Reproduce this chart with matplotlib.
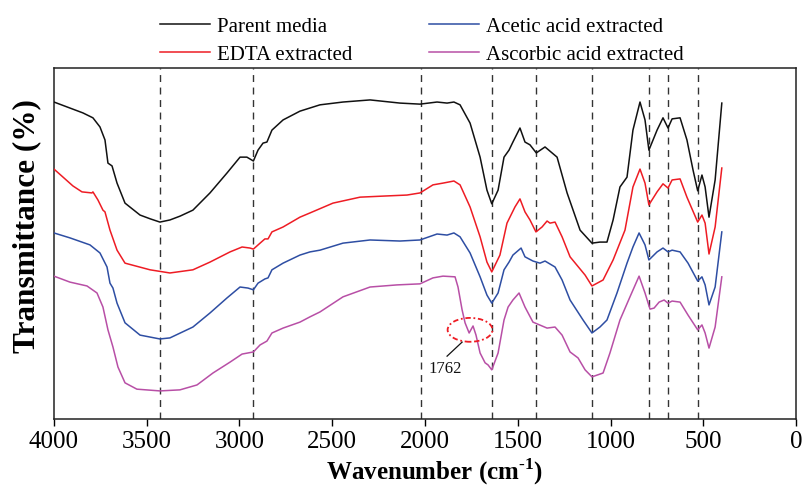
import matplotlib
matplotlib.use("Agg")
import matplotlib.pyplot as plt
from matplotlib.patches import Ellipse

plt.rcParams["font.family"] = ["Liberation Serif", "DejaVu Serif"]
plt.rcParams["mathtext.fontset"] = "custom"
plt.rcParams["mathtext.rm"] = "Liberation Serif:bold"
plt.rcParams["mathtext.bf"] = "Liberation Serif:bold"

# FTIR spectra (vertically offset transmittance, arbitrary units)
parent_wn = [4000, 3844, 3790, 3752, 3725, 3709, 3687, 3660, 3617, 3536, 3480, 3429, 3375,
             3320, 3251, 3159, 3067, 2997, 2960, 2925, 2900, 2873, 2852, 2825, 2765, 2674,
             2620, 2566, 2442, 2296, 2135, 2027, 1935, 1881, 1844, 1811, 1757, 1703,
             1666, 1640, 1606, 1574, 1547, 1526, 1488, 1461, 1434, 1400, 1353, 1288,
             1234, 1164, 1100, 1057, 1019, 986, 949, 911, 879, 841, 814, 793, 749,
             717, 690, 668, 625, 588, 555, 530, 507, 490, 469, 436, 400]
parent_t = [90.3, 87.2, 85.8, 83.2, 79.5, 72.9, 72.1, 67.2, 61.5, 58.1, 57.0, 56.1, 56.7,
            57.8, 59.5, 64.4, 70.1, 74.6, 74.6, 73.5, 76.6, 78.6, 78.9, 82.3, 85.2, 87.7,
            88.6, 89.5, 90.3, 90.9, 90.0, 89.7, 90.3, 90.0, 90.3, 89.5, 84.3, 74.6,
            65.2, 61.3, 65.2, 74.6, 76.6, 78.9, 82.9, 78.9, 78.1, 75.8, 77.5, 74.6,
            64.4, 53.8, 50.1, 50.4, 50.4, 56.7, 66.1, 68.9, 82.3, 90.3, 85.2, 76.6, 82.3,
            85.8, 82.9, 85.5, 85.8, 79.5, 70.9, 65.0, 69.5, 66.1, 57.5, 68.1, 90.0]

edta_wn = [4000, 3951, 3898, 3849, 3795, 3790, 3763, 3736, 3725, 3698, 3660, 3617,
           3482, 3375, 3251, 3159, 3051, 2986, 2943, 2925, 2889, 2863, 2846, 2825,
           2765, 2674, 2620, 2496, 2350, 2226, 2097, 2027, 1957, 1903, 1844, 1811,
           1757, 1703, 1666, 1640, 1596, 1558, 1515, 1488, 1461, 1434, 1402, 1369,
           1342, 1326, 1299, 1261, 1218, 1137, 1100, 1040, 986, 922, 879, 841, 814,
           793, 749, 717, 690, 668, 625, 588, 530, 507, 490, 469, 436, 400]
edta_t = [71.2, 68.9, 66.4, 64.7, 64.4, 64.7, 62.4, 59.5, 59.0, 53.8, 48.1, 44.4,
          42.5, 41.6, 42.5, 44.7, 47.6, 49.0, 48.7, 48.4, 50.1, 51.3, 51.3, 53.3,
          54.7, 57.5, 58.7, 61.5, 63.2, 63.5, 63.8, 64.4, 66.7, 67.2, 67.8, 66.7,
          60.4, 51.9, 44.7, 41.9, 46.7, 55.8, 60.4, 62.7, 59.0, 56.7, 53.3, 54.7,
          56.4, 55.8, 56.1, 51.9, 46.2, 41.0, 37.9, 39.6, 45.3, 53.8, 66.1, 71.2, 67.2,
          61.0, 64.7, 67.0, 65.8, 68.1, 68.4, 63.2, 56.1, 58.1, 55.8, 47.0, 54.7, 71.5]

acetic_wn = [4000, 3914, 3806, 3752, 3714, 3698, 3682, 3660, 3617, 3536, 3429, 3375,
             3251, 3159, 3067, 2997, 2954, 2925, 2900, 2863, 2846, 2825, 2765, 2674,
             2620, 2566, 2442, 2296, 2135, 2027, 1935, 1881, 1844, 1811, 1757, 1703,
             1666, 1640, 1606, 1574, 1547, 1526, 1482, 1461, 1418, 1380, 1353, 1299,
             1261, 1218, 1148, 1100, 1057, 1019, 965, 911, 879, 846, 814, 793, 749,
             717, 690, 668, 625, 582, 530, 507, 490, 469, 436, 400]
acetic_t = [53.0, 51.6, 49.6, 47.3, 43.3, 38.7, 37.3, 33.0, 27.4, 23.9, 22.8, 23.1,
            26.2, 30.2, 34.5, 37.6, 37.3, 36.8, 38.7, 39.9, 40.2, 42.5, 44.4, 46.7,
            47.6, 48.1, 50.1, 51.0, 50.7, 51.0, 52.7, 52.4, 53.0, 51.9, 47.3, 40.5,
            35.3, 33.0, 35.9, 42.5, 44.7, 46.7, 48.7, 46.2, 45.0, 44.4, 45.0, 43.3,
            39.6, 33.9, 28.2, 24.5, 26.2, 28.2, 35.9, 44.4, 49.0, 53.0, 49.6, 45.3, 47.6,
            48.7, 47.6, 48.1, 47.6, 44.4, 39.3, 40.5, 38.2, 32.5, 37.6, 53.3]

ascorbic_wn = [4000, 3914, 3822, 3768, 3736, 3709, 3682, 3655, 3617, 3553, 3429, 3321,
               3229, 3143, 3051, 2986, 2925, 2889, 2852, 2825, 2765, 2674, 2620, 2566,
               2442, 2296, 2151, 2027, 1957, 1903, 1838, 1822, 1800, 1784, 1762, 1741,
               1725, 1703, 1676, 1660, 1640, 1606, 1574, 1552, 1526, 1493, 1461, 1418,
               1342, 1299, 1261, 1218, 1175, 1137, 1100, 1040, 1003, 949, 895, 846, 814,
               787, 765, 738, 711, 690, 668, 625, 582, 530, 507, 490, 469, 436, 400]
ascorbic_t = [40.7, 39.0, 37.9, 35.9, 31.9, 25.4, 20.5, 14.8, 10.3, 8.5, 8.0, 8.3,
              9.7, 13.1, 16.2, 18.5, 19.1, 21.1, 22.2, 24.5, 25.9, 27.6, 29.1, 30.5,
              34.8, 37.6, 38.2, 38.5, 40.2, 40.7, 40.5, 37.6, 31.1, 27.4, 24.5, 26.5,
              23.9, 18.8, 16.0, 15.4, 14.0, 18.8, 28.2, 31.9, 33.9, 35.9, 31.9, 27.6,
              25.9, 26.2, 23.9, 19.1, 17.4, 14.0, 12.0, 13.1, 18.8, 28.2, 34.8, 40.7, 35.9,
              31.3, 31.6, 33.3, 33.9, 33.0, 33.6, 33.3, 29.6, 25.4, 26.8, 24.5, 20.2, 26.2, 40.5]

series_labels = ["Parent media", "EDTA extracted", "Acetic acid extracted",
                 "Ascorbic acid extracted"]
series_colors = ["#111111", "#ee1c24", "#2e4ea3", "#b84fa6"]

band_positions = [3430, 2925, 2020, 1640, 1400, 1100, 793, 690, 530]
x_ticks = [4000, 3500, 3000, 2500, 2000, 1500, 1000, 500, 0]

fig = plt.figure(figsize=(8.03, 4.88), dpi=100)
ax = fig.add_axes([0.0672, 0.1414, 0.9241, 0.7193])

for wn in band_positions:
    ax.axvline(wn, color="#333333", lw=1.0, ls=(0, (5, 4)), zorder=1)

lines = []
for wn, t, c, lab in zip([parent_wn, edta_wn, acetic_wn, ascorbic_wn],
                         [parent_t, edta_t, acetic_t, ascorbic_t],
                         series_colors, series_labels):
    ln, = ax.plot(wn, t, color=c, lw=1.1, label=lab, zorder=3,
                  solid_joinstyle="round")
    lines.append(ln)

# highlight of the 1762 cm-1 shoulder
ax.add_patch(Ellipse((1757, 25.4), 242, 6.8, fill=False, ec="#ee1c24",
                     lw=1.3, ls=(0, (3, 1.5, 1, 1.5)), zorder=4))
ax.plot([1800, 1881], [21.9, 17.9], color="#111111", lw=0.9, zorder=4)
ax.text(1892, 14.2, "1762", ha="center", va="center", fontsize=12, color="#111111")

ax.set_xlim(4000, 0)
ax.set_ylim(0, 100)
ax.set_xticks(x_ticks)
ax.set_yticks([])
ax.tick_params(axis="x", direction="out", length=5, width=1, labelsize=18, pad=4)
for s in ax.spines.values():
    s.set_linewidth(1.1)
    s.set_color("#222222")

fig.text(435 / 803, 1 - 472 / 488, r"Wavenumber (cm$^{\text{-1}}$)", fontsize=18,
         fontweight="bold", ha="center", va="center")
fig.text(27 / 803, 1 - 226 / 488, "Transmittance (%)", fontsize=22.5,
         fontweight="bold", ha="center", va="center", rotation=90)

fig.legend(lines, series_labels,
           ncol=2, frameon=False, loc="upper left",
           bbox_to_anchor=(160 / 803, 1 - 17 / 488), borderpad=0, borderaxespad=0,
           fontsize=15, handlelength=2.4, handletextpad=0.35, columnspacing=3.65,
           labelspacing=0.4)

fig.savefig("out.png", dpi=100)
